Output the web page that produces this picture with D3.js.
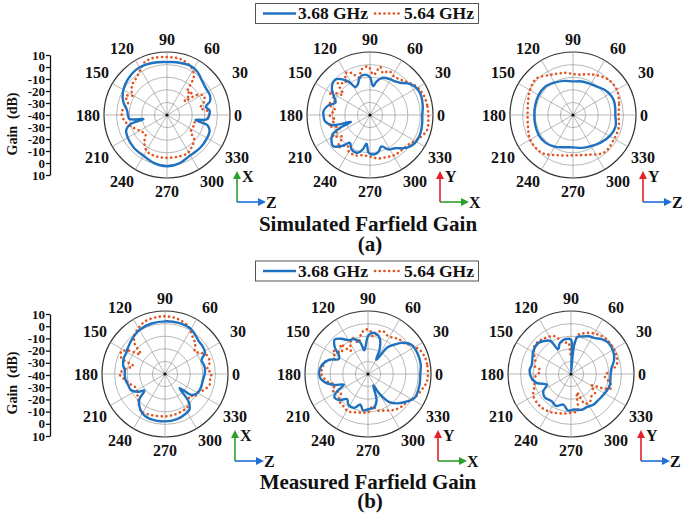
<!DOCTYPE html>
<html><head><meta charset="utf-8">
<script src="https://cdn.jsdelivr.net/npm/d3@7"></script>
<style>
html,body{margin:0;padding:0;background:#fff;}
text{font-family:"Liberation Serif","Times New Roman",serif;font-weight:bold;fill:#111;}
</style></head>
<body>
<svg id="chart" width="685" height="519"></svg>
<script>
// ---------- DATA ----------
const seriesNames = ["3.68 GHz", "5.64 GHz"];
const angleTicks = [0, 30, 60, 90, 120, 150, 180, 210, 240, 270, 300, 330];
const ringValues = [-30, -20, -10, 0, 10];
const gainTickLabels = ["10", "0", "-10", "-20", "-30", "-40", "-30", "-20", "-10", "0", "10"];
const panelTitles = ["Simulated Farfield Gain", "Measured Farfield Gain"];
const panelLetters = ["(a)", "(b)"];

// [angle (deg), gain (dB)]
const simXZ_368 = [[0,-6.5],[6,-6],[12,-8.5],[18,-4],[25,-2.5],[35,-2.5],[45,-1],[55,2],[65,3.2],[80,2.5],[90,2],[100,2.5],[115,3.5],[125,3.5],[138,2],[150,0],[158,-2],[165,-4.5],[173,-8],[180,-9],[186,-10],[190,-21],[194,-10],[200,-5.6],[210,-4],[225,-3],[240,-2.7],[255,-0.5],[270,0.7],[285,-0.5],[300,-3],[315,-3],[330,-3.3],[340,-4],[346,-7],[350,-17],[354,-8]];
const simXZ_564 = [[0,-6],[6,-8],[12,-13],[20,-8.5],[28,-7],[34,-12],[38,-22],[43,-13],[48,-16],[55,-3],[62,2],[75,5.5],[90,6],[105,6.5],[113,5.5],[120,2],[128,-1.5],[137,-3],[146,-6],[150,-9],[155,-4],[165,-8],[172,-5],[178,-4],[188,-6],[202,-12],[213,-16],[222,-17],[230,-12],[238,-8],[245,-6.5],[258,-6],[270,-6],[285,-5.8],[298,-5.6],[308,-8],[318,-11],[325,-17],[335,-17],[343,-18],[350,-12],[355,-8]];
const simYX_368 = [[0,1.5],[10,2.5],[22,3.4],[32,2.3],[40,-1],[47,-5],[53,-6.7],[62,-7.5],[72,-9],[79,-13],[84,-17],[90,-10],[97,-7.7],[105,-9],[112,-14],[117,-15],[124,-7],[135,-0.6],[145,-3],[153,-8],[160,-11],[167,-6],[175,-3],[180,-3],[188,-4],[195,-9],[200,-24],[203,-15],[208,-6],[220,-1.7],[228,-7],[234,-12.7],[242,-9],[252,-8.5],[258,-12],[263,-17],[268,-10],[275,-8.5],[283,-10],[290,-13.5],[298,-9],[307,-7],[318,-1],[328,2],[340,2.6],[350,2]];
const simYX_564 = [[0,6.3],[10,6],[21,5.3],[31,3.4],[40,0],[50,-3],[58,-4],[66,-2],[73,-5],[78,-1],[85,-8],[92,-1.5],[100,-3],[107,-9],[113,-4],[120,-1.5],[128,-8],[135,-4],[143,-13],[150,-3],[158,-10],[165,-6],[172,-12],[180,-8],[188,-12],[195,-6],[203,-14],[210,-6],[218,-12],[225,-4],[233,-10],[240,-6.4],[250,-6],[260,-7.5],[270,-7],[280,-5],[292,-4],[302,-2.7],[312,-2.5],[322,-1.6],[332,2],[345,6.8],[355,6.5]];
const simYZ_368 = [[0,-6.4],[10,-6],[20,-5.6],[30,-6.5],[40,-8.3],[50,-10.5],[60,-11.7],[75,-12.5],[90,-13.3],[105,-12],[120,-10.4],[135,-8.5],[150,-8.5],[165,-9],[180,-9.3],[195,-9],[210,-8.5],[225,-9],[240,-11],[255,-13.5],[270,-14.3],[285,-13],[300,-11.5],[315,-9],[330,-6.4],[345,-5]];
const simYZ_564 = [[0,-3.8],[15,-2.2],[30,0.2],[45,-0.3],[60,-3.5],[70,-5.5],[80,-7.5],[90,-7.5],[100,-6],[110,-5],[120,-3.3],[135,1],[150,-0.6],[165,-3],[180,-4],[195,-3],[210,-0.8],[230,-1],[250,-6],[270,-8],[290,-6.4],[310,-1.3],[330,-2.2],[345,-2.4]];
const measXZ_368 = [[0,-8.5],[8,-8],[15,-8.5],[21,-9],[28,-4],[36,-3],[45,-2.5],[55,0],[62,1.5],[75,2],[90,1.8],[105,1.5],[120,0.5],[134,-2],[145,-4],[152,-5],[160,-5],[168,-6],[175,-8],[182,-8],[190,-8.5],[197,-9.5],[205,-10],[213,-14],[219,-19],[224,-12],[230,-8],[240,-4],[250,-2.5],[270,-2.4],[285,-3],[298,-4.5],[305,-6],[311,-12],[316,-24],[322,-13],[330,-10],[340,-9.5],[350,-9.6]];
const measXZ_564 = [[0,-3.2],[8,-6],[15,-3.2],[25,-3.8],[32,-8],[37,-10.4],[45,-6],[52,-3.8],[64,2],[78,5],[90,5.8],[100,5.5],[111,4.7],[120,2],[128,-0.6],[135,-6],[141,-15],[147,-6],[153,-1],[160,-3.2],[166,-14],[172,-9],[180,-4],[190,-8.8],[198,-12],[206,-14.6],[215,-13],[224,-10.4],[232,-7],[238,-4.8],[250,-5.5],[270,-6.4],[285,-7],[302,-8],[310,-10],[318,-14],[324,-10],[329,-11],[337,-7],[347,-3.5],[355,-4]];
const measYX_368 = [[0,1.5],[10,2.5],[22,2.6],[34,1.5],[42,-3],[48,-8.5],[54,-14],[60,-27],[65,-18],[72,-10],[78,-7.5],[84,-7.2],[90,-10],[95,-18],[99,-21],[104,-14],[112,-10],[120,-9],[127,-5],[134,-2],[141,-6],[148,-13],[153,-14],[160,-7],[170,-2.4],[183,-1.6],[192,-6],[198,-12],[204,-19],[209,-12],[214,-7.7],[222,-9],[230,-14],[238,-11],[248,-11],[256,-15],[262,-11],[270,-12],[280,-13],[288,-18],[295,-30],[300,-22],[307,-12],[315,-7],[325,-2],[333,1.6],[348,1.8]];
const measYX_564 = [[0,7.6],[10,7.5],[17,7],[25,5.3],[32,2],[40,-2],[48,-3],[54,-4.5],[62,-6],[70,-4],[75,-5],[82,-10],[88,-5],[94,-4.8],[100,-8],[107,-14],[113,-9],[120,-12],[127,-17],[133,-8],[140,-13],[147,-7],[155,-11],[163,-5],[172,-3.5],[180,-3],[190,-7],[198,-12],[206,-9],[214,-14],[222,-9],[232,-8],[242,-6.4],[252,-8],[262,-9],[270,-9.5],[278,-14],[285,-10],[295,-8],[305,-5],[315,-3],[325.6,-1.6],[335,2],[345.7,5],[352,7]];
const measYZ_368 = [[0,-8.5],[8.4,-7.5],[18,-4],[28,-2],[40,-1.4],[48,-3],[56,-5.6],[65,-7],[74,-9],[80,-10],[84,-18],[86,-38],[88,-20],[90,-12.8],[100,-12],[110,-14],[117.5,-18],[122,-9],[130,-6],[136.5,-4.3],[149,-5],[158,-7],[166.7,-8],[175,-7],[186,-8.6],[195,-12],[203.7,-19],[212,-14],[222,-12],[234.7,-13.5],[245,-12],[256,-15],[265,-11],[275,-11.7],[286.6,-10.4],[296,-11],[306,-9.8],[316,-10],[327,-9.5],[336,-8.5],[345,-8],[353,-8.5]];
const measYZ_564 = [[0,-12],[5,-8],[11.5,-3],[21,-1.1],[32,-0.6],[44,-0.6],[55,-2],[63,-3.5],[72,-6],[79.4,-8.3],[85,-20],[90,-25],[95,-15],[104,-14.6],[113,-7.5],[125.8,-4.8],[140.8,-3.2],[150,-6],[160.6,-9.8],[166,-8],[172,-15],[180,-14],[188,-9],[196.5,-10],[205,-7],[210.7,-5.3],[226,-4.5],[240,-5.5],[247.7,-6.7],[258,-8],[268,-9],[280,-10.4],[284,-20],[288,-24.7],[295,-14],[305,-13.5],[313,-16],[321.6,-15.7],[330,-21.5],[336,-12],[340,-6.4],[347,-8],[355,-13]];

// coordinate-system labels per panel: [up, right]
const axisPairs = [["X","Z"],["Y","X"],["Y","Z"],["X","Z"],["Y","X"],["Y","Z"]];

// ---------- LAYOUT ----------
const colors = ["#1f72bf", "#e2531f"];
const axisColors = {X:"#2ca02c", Y:"#e8202a", Z:"#1f6fd6"};
const R = 63;
const rScale = d3.scaleLinear().domain([-40, 10]).range([0, R]).clamp(true);
const rows = [
  {cy:115, cxs:[167,370,573], legendY:3.5, titleY:231, letterY:251, gainY0:55, gainY1:175, gainLabelY:124},
  {cy:374, cxs:[165,368,571], legendY:261, titleY:489, letterY:508, gainY0:314, gainY1:436, gainLabelY:383}
];
const panelData = [
  [simXZ_368, simXZ_564],[simYX_368, simYX_564],[simYZ_368, simYZ_564],
  [measXZ_368, measXZ_564],[measYX_368, measYX_564],[measYZ_368, measYZ_564]
];

const svg = d3.select("#chart");
// d3 lineRadial: angle 0 = 12 o'clock, clockwise; data: 0 = 3 o'clock, counter-clockwise
const line = d3.lineRadial()
  .angle(d => (90 - d[0]) * Math.PI / 180)
  .radius(d => rScale(d[1]))
  .curve(d3.curveCatmullRomClosed.alpha(0.5));

// label placement around the polar grid
function labelPos(a, txt) {
  const w = txt.length * 8;
  const rad = a * Math.PI / 180;
  if (a % 90 === 0) {
    const c = Math.round(Math.cos(rad)), s = Math.round(Math.sin(rad));
    return [c * (67 + w/2), -s * 76];
  }
  const sx = Math.sign(Math.cos(rad)), sy = Math.sign(Math.sin(rad));
  const nearHoriz = Math.abs(Math.cos(rad)) > 0.8;
  if (nearHoriz) return [sx * (txt.length === 2 ? 73 : 70), -sy * 42.5];
  return [sx * 45, -sy * 66.5];
}

rows.forEach((row, ri) => {
  // Gain axis
  const gy = d3.scaleLinear().domain([0, gainTickLabels.length - 1]).range([row.gainY0, row.gainY1]);
  const ax = d3.axisLeft(gy).tickValues(d3.range(gainTickLabels.length))
    .tickFormat(i => gainTickLabels[i]).tickSize(4).tickSizeOuter(0).tickPadding(1);
  const ag = svg.append("g").attr("transform", `translate(50,0)`).call(ax);
  ag.selectAll("path,line").attr("stroke", "#111").attr("stroke-width", 1.3);
  ag.selectAll("text").style("font-size", "13px").style("font-family", "Liberation Serif").style("font-weight", "bold").attr("fill", "#111");
  svg.append("text").attr("transform", `translate(17,${row.gainLabelY}) rotate(-90)`)
    .attr("text-anchor", "middle").style("font-size", "14px").attr("xml:space","preserve").text("Gain  (dB)");

  row.cxs.forEach((cx, ci) => {
    const pi = ri * 3 + ci;
    const g = svg.append("g").attr("transform", `translate(${cx},${row.cy})`);
    ringValues.forEach((v, k) => {
      const outer = k === ringValues.length - 1;
      g.append("circle").attr("r", rScale(v)).attr("fill", "none")
        .attr("stroke", outer ? "#333" : "#999").attr("stroke-width", outer ? 1.2 : 0.7);
    });
    angleTicks.forEach(a => {
      g.append("line").attr("x1", 0).attr("y1", 0)
        .attr("x2", R * Math.cos(a * Math.PI/180)).attr("y2", -R * Math.sin(a * Math.PI/180))
        .attr("stroke", "#999").attr("stroke-width", 0.7);
    });
    g.append("circle").attr("r", 1.6).attr("fill", "#111");
    angleTicks.forEach(a => {
      const t = String(a);
      const [x, y] = labelPos(a, t);
      g.append("text").attr("x", x).attr("y", y).attr("dy", "0.36em")
        .attr("text-anchor", "middle").style("font-size", "16px").text(t);
    });
    const [d368, d564] = panelData[pi];
    g.append("path").attr("d", line(d564)).attr("fill", "none")
      .attr("stroke", colors[1]).attr("stroke-width", 2.6)
      .attr("stroke-dasharray", "0.1 4.6").attr("stroke-linecap", "round");
    g.append("path").attr("d", line(d368)).attr("fill", "none")
      .attr("stroke", colors[0]).attr("stroke-width", 2.4).attr("stroke-linejoin", "round");
    // coordinate arrows
    const [up, right] = axisPairs[pi];
    const ox = cx + 70, oy = row.cy + 87;
    svg.append("line").attr("x1", ox).attr("y1", oy).attr("x2", ox).attr("y2", oy - 24)
      .attr("stroke", axisColors[up]).attr("stroke-width", 1.6);
    svg.append("path").attr("d", `M${ox-4},${oy-23} L${ox},${oy-31} L${ox+4},${oy-23} Z`).attr("fill", axisColors[up]);
    svg.append("line").attr("x1", ox).attr("y1", oy).attr("x2", ox + 22).attr("y2", oy)
      .attr("stroke", axisColors[right]).attr("stroke-width", 1.6);
    svg.append("path").attr("d", `M${ox+21},${oy-4} L${ox+29},${oy} L${ox+21},${oy+4} Z`).attr("fill", axisColors[right]);
    svg.append("text").attr("x", ox + 5).attr("y", oy - 20).style("font-size", "16px").text(up);
    svg.append("text").attr("x", ox + 29).attr("y", oy + 6).style("font-size", "16px").text(right);
  });

  // legend
  const ly = row.legendY;
  svg.append("rect").attr("x", 255.5).attr("y", ly).attr("width", 223).attr("height", 20)
    .attr("fill", "#fff").attr("stroke", "#555").attr("stroke-width", 1);
  svg.append("line").attr("x1", 263).attr("x2", 296).attr("y1", ly + 10).attr("y2", ly + 10)
    .attr("stroke", colors[0]).attr("stroke-width", 2.4);
  svg.append("text").attr("x", 298).attr("y", ly + 15.5).style("font-size", "17.5px").text(seriesNames[0]);
  svg.append("line").attr("x1", 375).attr("x2", 400).attr("y1", ly + 10).attr("y2", ly + 10)
    .attr("stroke", colors[1]).attr("stroke-width", 2.6).attr("stroke-dasharray", "0.1 4.6").attr("stroke-linecap", "round");
  svg.append("text").attr("x", 404).attr("y", ly + 15.5).style("font-size", "17.5px").text(seriesNames[1]);

  // titles
  svg.append("text").attr("x", 368).attr("y", row.titleY).attr("text-anchor", "middle")
    .style("font-size", "21px").text(panelTitles[ri]);
  svg.append("text").attr("x", 370).attr("y", row.letterY).attr("text-anchor", "middle")
    .style("font-size", "21px").text(panelLetters[ri]);
});
</script>
</body></html>
